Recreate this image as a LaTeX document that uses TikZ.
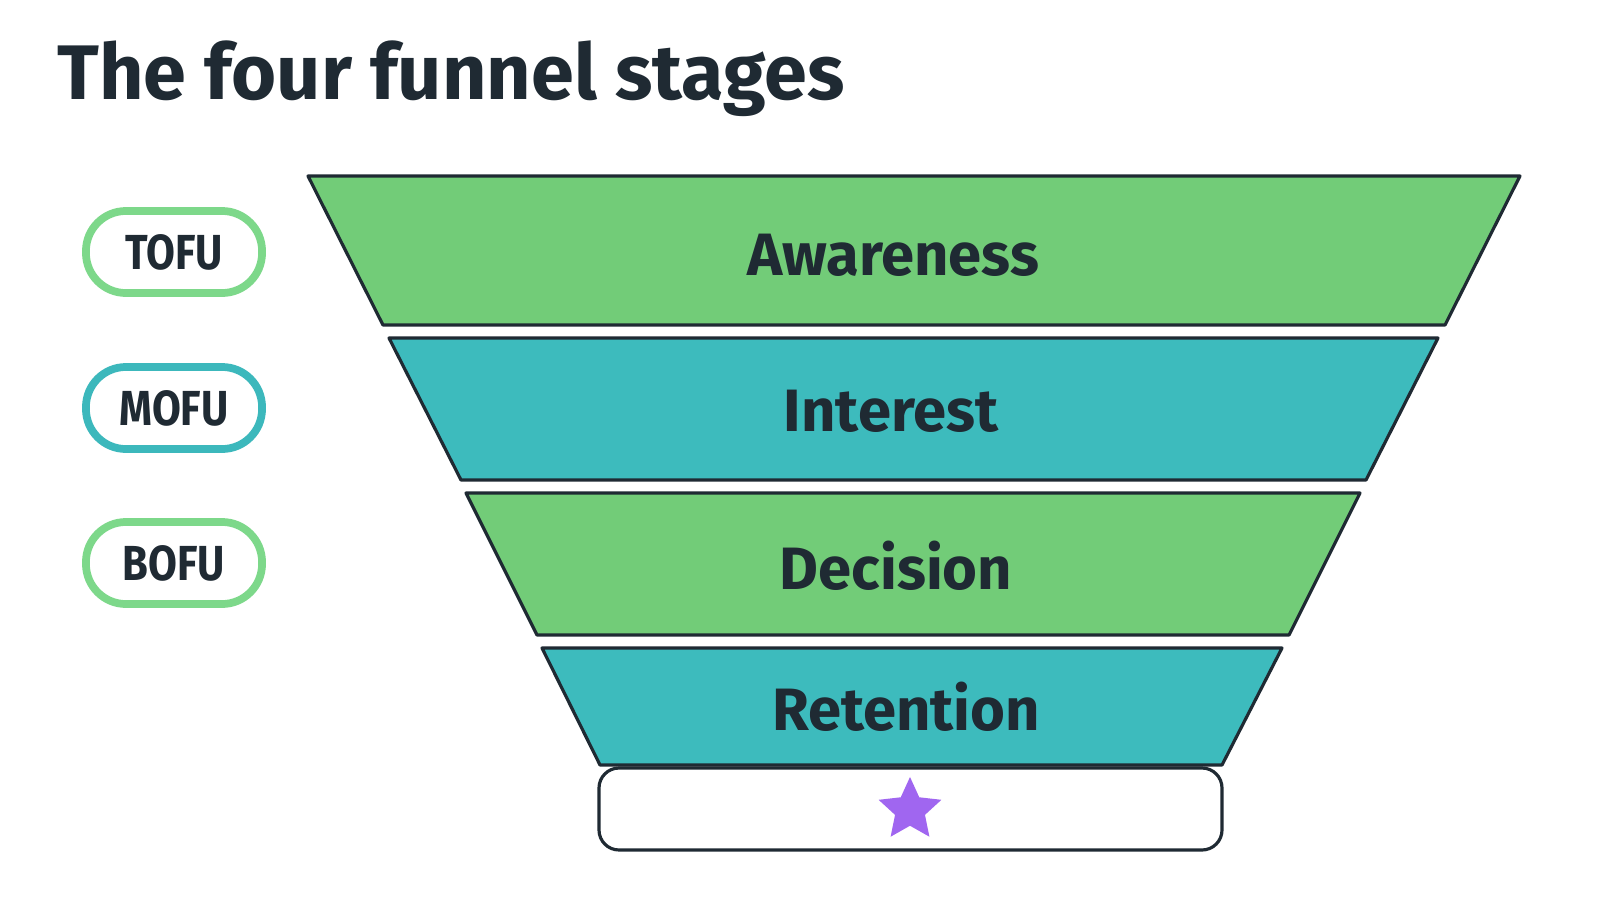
\documentclass[tikz,border=0pt]{standalone}
\usepackage{fontspec}
\setmainfont{Fira Sans}
\usetikzlibrary{shapes.geometric}
\definecolor{ink}{HTML}{1F2A33}
\definecolor{fgreen}{HTML}{72CC78}
\definecolor{fteal}{HTML}{3DBBBD}
\definecolor{pgreen}{HTML}{7DD88A}
\definecolor{pteal}{HTML}{3CB8BC}
\definecolor{starpurple}{HTML}{A066F0}
\begin{document}
\begin{tikzpicture}[x=0.01cm,y=-0.01cm,
  seg/.style={draw=ink,line width=0.9pt,line join=round},
  lab/.style={font=\fontsize{17}{20}\selectfont\bfseries,text=ink},
  pill/.style={draw,line width=2.2pt,rounded corners=0.4cm,minimum width=1.76cm,minimum height=0.82cm,fill=white,font=\fontsize{14}{17}\selectfont\bfseries,text=ink}]
\useasboundingbox[fill=white] (0,0) rectangle (1600,900);
\node[anchor=base west,font=\fontsize{22}{26}\selectfont\bfseries,text=ink] (title) at (45,100) {The four funnel stages};
\draw[seg,fill=fgreen] (308,176) -- (1520,176) -- (1445,325) -- (383,325) -- cycle;
\draw[seg,fill=fteal] (389,338) -- (1438,338) -- (1366,480) -- (461,480) -- cycle;
\draw[seg,fill=fgreen] (466,493) -- (1360,493) -- (1289,635) -- (537,635) -- cycle;
\draw[seg,fill=fteal] (542,648) -- (1282,648) -- (1222,765) -- (600,765) -- cycle;
\node[lab] (aw) at (893,255) {Awareness};
\node[lab] (in) at (891,411) {Interest};
\node[lab] (de) at (896,566) {Decision};
\node[lab] (re) at (906,707) {Retention};
\draw[seg,rounded corners=0.2cm,fill=white] (599,768) rectangle (1222,850);
\node[star,star points=5,star point ratio=2.1,fill=starpurple,minimum size=0.66cm,inner sep=0pt] (st) at (910,810) {};
\node[pill,draw=pgreen] (tofu) at (174,252) {\scalebox{0.85}[1]{TOFU}};
\node[pill,draw=pteal] (mofu) at (174,408) {\scalebox{0.85}[1]{MOFU}};
\node[pill,draw=pgreen] (bofu) at (174,563) {\scalebox{0.85}[1]{BOFU}};
\end{tikzpicture}
\end{document}
